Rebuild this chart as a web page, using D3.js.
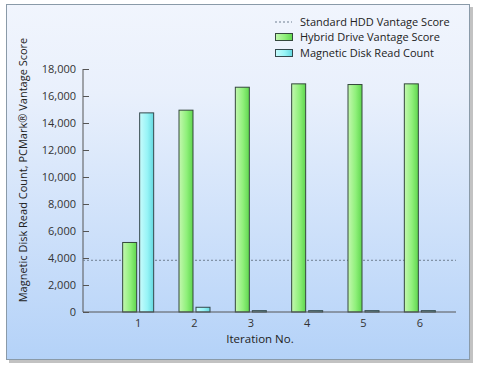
<!DOCTYPE html>
<meta charset="utf-8">
<script src="https://d3js.org/d3.v7.min.js"></script>
<style>
body { margin: 0; }
text { font-family: "Open Sans", sans-serif; fill: #222; }
.axis path, .axis line { stroke: #555; }
.axis text { font-size: 11px; fill: #333; font-family: "Open Sans", sans-serif; }
</style>
<body>
<script>
var iterations = ['1', '2', '3', '4', '5', '6'];
var hybridScore = [5150, 14950, 16650, 16900, 16850, 16900];
var diskReads = [14750, 350, 100, 100, 100, 100];
var standardHdd = 3830;
var yTicks = [0, 2000, 4000, 6000, 8000, 10000, 12000, 14000, 16000, 18000];
var legendLabels = ['Standard HDD Vantage Score', 'Hybrid Drive Vantage Score', 'Magnetic Disk Read Count'];

var W = 480, H = 371;
var svg = d3.select('body').append('svg').attr('width', W).attr('height', H);

var defs = svg.append('defs');
var bg = defs.append('linearGradient').attr('id', 'bg').attr('x1', 0).attr('y1', 0).attr('x2', 0).attr('y2', 1);
bg.append('stop').attr('offset', '0%').attr('stop-color', '#f1f5fd');
bg.append('stop').attr('offset', '25%').attr('stop-color', '#e9f0fc');
bg.append('stop').attr('offset', '100%').attr('stop-color', '#b4d2f8');

function barGrad(id, light, mid, dark) {
    var g = defs.append('linearGradient').attr('id', id).attr('x1', 0).attr('y1', 0).attr('x2', 1).attr('y2', 0);
    g.append('stop').attr('offset', '0%').attr('stop-color', light);
    g.append('stop').attr('offset', '55%').attr('stop-color', mid);
    g.append('stop').attr('offset', '100%').attr('stop-color', dark);
}
barGrad('green', '#c4f7b0', '#8ff07a', '#5fd64e');
barGrad('cyan', '#c8fbfc', '#97f4f6', '#63d8e0');

// frame with shadow
svg.append('rect').attr('x', 9).attr('y', 7).attr('width', 464).attr('height', 356).attr('fill', '#9a9a9a').attr('opacity', 0.6);
svg.append('rect').attr('x', 6.5).attr('y', 4.5).attr('width', 463).attr('height', 355)
    .attr('fill', 'url(#bg)').attr('stroke', '#8a9aa8');

var x0 = 83, x1 = 456;
var y = d3.scaleLinear().domain([0, 18000]).range([312, 69]);
var x = d3.scaleBand().domain(iterations).range([110, 448]).paddingInner(0).paddingOuter(0);
var bw = 14, gap = 3;

// y axis
var yAxis = svg.append('g').attr('class', 'axis').attr('transform', 'translate(' + x0 + ',0)')
    .call(d3.axisLeft(y).tickValues(yTicks).tickSizeInner(-6).tickSizeOuter(0).tickPadding(7)
        .tickFormat(d3.format(',')));
yAxis.select('.domain').attr('d', 'M0,' + y(18000) + 'V' + y(0));

// dashed standard line
svg.append('line').attr('x1', x0).attr('x2', x1).attr('y1', y(standardHdd)).attr('y2', y(standardHdd))
    .attr('stroke', '#6f7f90').attr('stroke-width', 1).attr('stroke-dasharray', '2,2');

// bars
var groups = svg.append('g').selectAll('g').data(iterations).enter().append('g');
groups.append('rect')
    .attr('x', function(d) { return x(d) + x.bandwidth() / 2 - gap / 2 - bw; })
    .attr('y', function(d, i) { return y(hybridScore[i]); })
    .attr('width', bw)
    .attr('height', function(d, i) { return y(0) - y(hybridScore[i]); })
    .attr('fill', 'url(#green)').attr('stroke', '#34483c').attr('stroke-width', 1);
groups.append('rect')
    .attr('x', function(d) { return x(d) + x.bandwidth() / 2 + gap / 2; })
    .attr('y', function(d, i) { return y(diskReads[i]); })
    .attr('width', bw)
    .attr('height', function(d, i) { return y(0) - y(diskReads[i]); })
    .attr('fill', 'url(#cyan)').attr('stroke', '#34484c').attr('stroke-width', 1);

// x axis
var xAxis = svg.append('g').attr('class', 'axis').attr('transform', 'translate(0,' + y(0) + ')')
    .call(d3.axisBottom(x).tickSize(0).tickPadding(7));
xAxis.select('.domain').attr('d', 'M' + x0 + ',0H' + x1);

// axis titles
svg.append('text').attr('x', 260).attr('y', 343).attr('text-anchor', 'middle')
    .style('font-size', '11.5px').text('Iteration No.');
svg.append('text').attr('transform', 'translate(27,170) rotate(-90)').attr('text-anchor', 'middle')
    .style('font-size', '11px').text('Magnetic Disk Read Count, PCMark\u00ae Vantage Score');

// legend
var lx = 275, ly = [22, 37, 53];
svg.append('line').attr('x1', lx).attr('x2', lx + 17).attr('y1', ly[0]).attr('y2', ly[0])
    .attr('stroke', '#6f7f90').attr('stroke-dasharray', '2,2');
svg.append('rect').attr('x', lx + 0.5).attr('y', ly[1] - 3.5).attr('width', 17).attr('height', 7)
    .attr('fill', 'url(#green)').attr('stroke', '#34483c');
svg.append('rect').attr('x', lx + 0.5).attr('y', ly[2] - 3.5).attr('width', 17).attr('height', 7)
    .attr('fill', 'url(#cyan)').attr('stroke', '#34484c');
svg.selectAll('.leg').data(legendLabels).enter().append('text').attr('class', 'leg')
    .attr('x', 300).attr('y', function(d, i) { return ly[i] + 4; })
    .style('font-size', '11px').text(function(d) { return d; });
</script>
</body>
</html>
